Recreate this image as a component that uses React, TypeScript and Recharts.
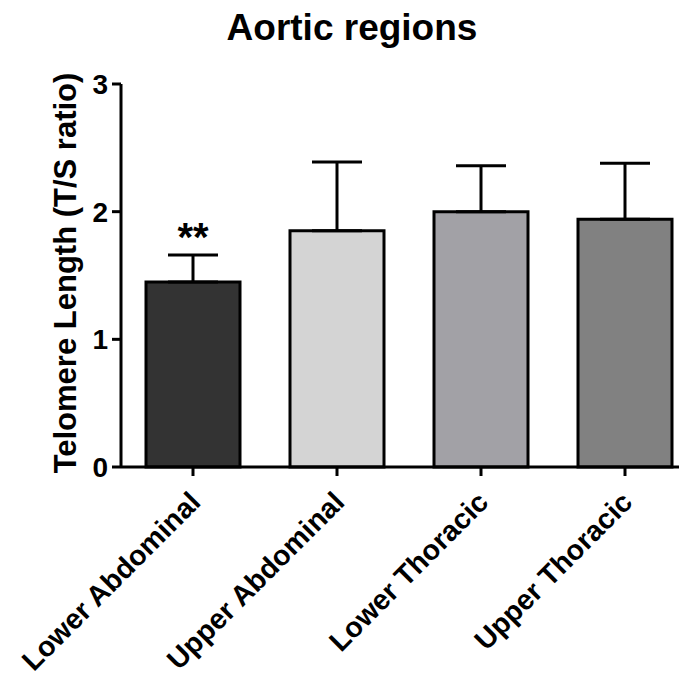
import React from "react";
import { BarChart, Bar, XAxis, YAxis, ErrorBar, Cell, LabelList } from "recharts";

// Telomere length by aortic region (mean with upper SD)
const regions = ["Lower Abdominal", "Upper Abdominal", "Lower Thoracic", "Upper Thoracic"];
const means = [1.45, 1.85, 2.0, 1.94];
const upperErrors = [0.21, 0.54, 0.36, 0.44];
const significance = ["**", "", "", ""];
const barColors = ["#333333", "#d4d4d4", "#a2a1a6", "#818181"];
const yTicks = [0, 1, 2, 3];

const FONT = "'Liberation Sans', Arial, Helvetica, sans-serif";

const data = regions.map((name, i) => ({
  name,
  value: means[i],
  err: [0, upperErrors[i]],
  sig: significance[i],
}));

const XTick = (props: any) => {
  const { x, y, payload } = props;
  return (
    <g transform={`translate(${x},${y})`}>
      <text
        x={9}
        y={26}
        transform="rotate(-45, 9, 26)"
        textAnchor="end"
        fontFamily={FONT}
        fontWeight="bold"
        fontSize={28.5}
        fill="#000"
      >
        {payload.value}
      </text>
    </g>
  );
};

const YTick = (props: any) => {
  const { x, y, payload } = props;
  return (
    <text
      x={x}
      y={y}
      dy={10}
      textAnchor="end"
      fontFamily={FONT}
      fontWeight="bold"
      fontSize={28}
      fill="#000"
    >
      {payload.value}
    </text>
  );
};

const SigLabel = (props: any) => {
  const { x, y, width, height, index, value } = props;
  if (!value) return null;
  const row = data[index];
  const pxPerUnit = height / row.value;
  const capY = y - row.err[1] * pxPerUnit;
  return (
    <text
      x={x + width / 2}
      y={capY - 4}
      textAnchor="middle"
      fontFamily={FONT}
      fontWeight="bold"
      fontSize={40}
      fill="#000"
    >
      {value}
    </text>
  );
};

export default function App() {
  return (
    <div style={{ margin: -8, width: 687, height: 679, overflow: "hidden", background: "#fff" }}>
      <div style={{ position: "relative", width: 700, height: 679 }}>
        <div
          style={{
            position: "absolute",
            left: 0,
            width: 704,
            top: 7,
            textAlign: "center",
            fontFamily: FONT,
            fontWeight: "bold",
            fontSize: 37,
            lineHeight: "42px",
          }}
        >
          Aortic regions
        </div>
        <div
          style={{
            position: "absolute",
            left: 66,
            top: 273,
            transform: "translate(-50%, -50%) rotate(-90deg)",
            whiteSpace: "nowrap",
            fontFamily: FONT,
            fontWeight: "bold",
            fontSize: 31,
            lineHeight: "34px",
          }}
        >
          Telomere Length (T/S ratio)
        </div>
        <BarChart
          width={700}
          height={679}
          data={data}
          margin={{ top: 84, right: 3, bottom: 0, left: 61 }}
          barCategoryGap={25}
        >
          <XAxis
            dataKey="name"
            height={212}
            interval={0}
            axisLine={{ stroke: "#000", strokeWidth: 3 }}
            tickLine={{ stroke: "#000", strokeWidth: 3 }}
            tickSize={9}
            tick={<XTick />}
          />
          <YAxis
            width={60}
            domain={[0, 3]}
            ticks={yTicks}
            interval={0}
            axisLine={{ stroke: "#000", strokeWidth: 3 }}
            tickLine={{ stroke: "#000", strokeWidth: 3 }}
            tickSize={9}
            tickMargin={4}
            tick={<YTick />}
          />
          <Bar dataKey="value" stroke="#000" strokeWidth={3} isAnimationActive={false}>
            {data.map((d, i) => (
              <Cell key={d.name} fill={barColors[i]} />
            ))}
            <ErrorBar dataKey="err" direction="y" width={25} stroke="#000" strokeWidth={3} isAnimationActive={false} />
            <LabelList dataKey="sig" content={<SigLabel />} />
          </Bar>
        </BarChart>
      </div>
    </div>
  );
}
